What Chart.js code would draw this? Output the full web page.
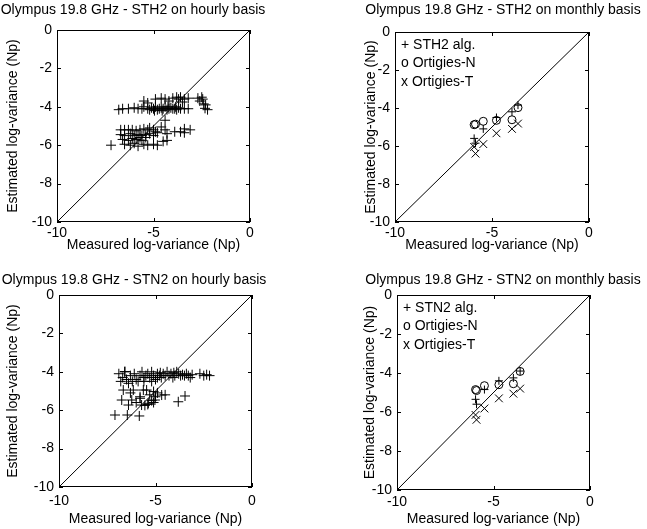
<!DOCTYPE html>
<html>
<head>
<meta charset="utf-8">
<script src="https://cdn.jsdelivr.net/npm/chart.js@4.4.0/dist/chart.umd.min.js"></script>
<style>
    html, body { margin: 0; padding: 0; background: #fff; }
    #wrap { position: relative; width: 647px; height: 529px; overflow: hidden; }
    canvas { position: absolute; }
</style>
</head>
<body>
<div id="wrap">
    <canvas id="c-sth2-hour" width="323" height="264" style="left:0;top:0"></canvas>
    <canvas id="c-sth2-month" width="324" height="264" style="left:323px;top:0"></canvas>
    <canvas id="c-stn2-hour" width="323" height="265" style="left:0;top:264px"></canvas>
    <canvas id="c-stn2-month" width="324" height="265" style="left:323px;top:264px"></canvas>
</div>
<script>
// Axes (log-variance, Np)
var xTicks = [-10, -5, 0];
var yTicks = [0, -2, -4, -6, -8, -10];
var diag = [{ x: -10, y: -10 }, { x: 0, y: 0 }];

// Hourly scatter: [measured, estimated]
var sth2Hourly = [
    [-6.8, -4.15], [-6.6, -4.1], [-6.3, -4.1], [-6.0, -4.05], [-5.8, -4.1], [-5.6, -4.1], [-5.5, -4.0],
    [-5.3, -4.1], [-5.2, -4.15], [-5.1, -4.05], [-5.0, -4.1], [-4.9, -4.0], [-4.8, -4.15], [-4.7, -4.1],
    [-4.6, -4.05], [-4.5, -4.1], [-4.4, -4.0], [-4.3, -4.15], [-4.2, -4.1], [-4.1, -4.05], [-4.0, -4.1],
    [-3.9, -4.1], [-3.8, -4.15], [-3.7, -4.05], [-3.6, -4.1], [-3.4, -4.1], [-3.2, -4.1], [-2.2, -4.15],
    [-2.33, -4.08], [-4.95, -4.2], [-4.55, -4.2], [-4.25, -4.0], [-3.85, -4.0],
    [-5.5, -3.7], [-5.3, -3.8], [-4.9, -3.6], [-4.6, -3.55], [-4.4, -3.6], [-4.2, -3.7], [-4.0, -3.55],
    [-3.8, -3.5], [-3.7, -3.6], [-3.6, -3.5], [-3.5, -3.75], [-3.4, -3.6], [-3.2, -3.55], [-2.7, -3.55],
    [-2.6, -3.7], [-2.5, -3.5], [-2.45, -3.6], [-2.4, -3.85], [-2.3, -3.9],
    [-4.4, -4.7], [-4.6, -5.05],
    [-6.7, -5.2], [-6.5, -5.2], [-6.3, -5.2], [-6.1, -5.2], [-5.9, -5.25], [-5.7, -5.2], [-5.5, -5.15],
    [-5.3, -5.2], [-5.2, -5.1], [-5.0, -5.2], [-4.9, -5.3], [-4.4, -5.2], [-3.4, -5.15], [-3.1, -5.2],
    [-3.9, -5.3], [-6.7, -5.45], [-6.5, -5.5], [-6.2, -5.4], [-6.0, -5.5], [-5.8, -5.45], [-5.6, -5.5],
    [-5.4, -5.45], [-5.2, -5.4], [-5.0, -5.5], [-4.8, -5.35], [-4.3, -5.4], [-3.6, -5.3], [-3.4, -5.35],
    [-6.6, -5.7], [-6.3, -5.75], [-6.1, -5.65], [-5.9, -5.7], [-5.7, -5.6], [-5.6, -5.75], [-5.4, -5.6],
    [-4.5, -5.8], [-4.3, -5.75], [-7.2, -6.0], [-6.5, -5.95], [-6.2, -6.0], [-6.0, -5.9], [-5.8, -6.05],
    [-5.5, -5.95], [-5.0, -5.95], [-4.8, -6.0], [-5.3, -6.0]
];

var stn2Hourly = [
    [-6.9, -4.1], [-6.7, -4.3], [-6.6, -4.0], [-6.5, -4.4], [-6.3, -4.2], [-6.2, -4.5], [-6.1, -4.1],
    [-6.0, -4.4], [-5.9, -4.5], [-5.8, -4.2], [-5.7, -4.0], [-5.6, -4.3], [-5.5, -4.2], [-5.4, -4.1],
    [-5.3, -4.3], [-5.2, -4.0], [-5.1, -4.2], [-5.0, -4.4], [-4.9, -4.1], [-4.8, -4.2], [-4.7, -4.3],
    [-4.6, -4.1], [-4.5, -4.2], [-4.4, -4.0], [-4.3, -4.2], [-4.2, -4.1], [-4.1, -4.3], [-4.0, -4.2],
    [-3.9, -4.0], [-3.8, -4.1], [-3.7, -4.2], [-3.6, -4.15], [-3.5, -4.2], [-3.4, -4.1], [-3.3, -4.2],
    [-3.1, -4.15], [-2.7, -4.1], [-2.5, -4.2], [-2.35, -4.15], [-2.2, -4.2], [-6.8, -4.5], [-6.4, -4.6],
    [-5.6, -4.5], [-5.2, -4.5], [-4.9, -4.3], [-3.2, -4.3], [-6.58, -3.99], [-4.75, -4.05], [-4.05, -4.05],
    [-6.67, -4.95], [-6.15, -4.95], [-5.63, -4.95], [-6.75, -5.47], [-6.23, -5.47], [-5.8, -5.38],
    [-5.46, -4.95], [-5.1, -5.03], [-5.03, -5.47], [-5.37, -5.64], [-5.72, -5.73], [-4.68, -5.21],
    [-3.82, -5.56], [-3.47, -5.26], [-6.4, -5.73], [-5.3, -5.2], [-5.1, -5.6], [-5.0, -5.3], [-4.9, -5.1],
    [-5.2, -5.5], [-4.5, -5.2], [-6.0, -5.6], [-5.8, -5.3], [-6.3, -5.1], [-5.55, -5.75], [-5.4, -5.7],
    [-7.1, -6.25], [-6.46, -6.25], [-5.84, -6.3]
];

// Monthly: measured per month, then each estimator
var sth2Measured = [-5.92, -5.85, -5.45, -4.77, -3.97, -3.66];
var sth2Alg = [-5.6, -5.85, -5.1, -4.5, -4.2, -3.85];
var sth2OrtN = [-4.88, -4.85, -4.7, -4.65, -4.62, -3.98];
var sth2OrtT = [-6.05, -6.4, -5.9, -5.33, -5.1, -4.82];

var stn2Measured = [-5.93, -5.88, -5.47, -4.72, -3.97, -3.62];
var stn2Alg = [-5.35, -5.6, -4.85, -4.4, -4.25, -3.9];
var stn2OrtN = [-4.85, -4.9, -4.65, -4.6, -4.55, -3.92];
var stn2OrtT = [-6.15, -6.4, -5.82, -5.3, -5.06, -4.8];

var sth2Legend = ['+ STH2 alg.', 'o Ortigies-N', 'x Ortigies-T'];
var stn2Legend = ['+ STN2 alg.', 'o Ortigies-N', 'x Ortigies-T'];

var FONT = '"Liberation Sans", Arial, Helvetica, sans-serif';
Chart.defaults.font.family = FONT;
Chart.defaults.font.size = 14;
Chart.defaults.color = '#000';

function pairs(list) {
    return list.map(function (p) { return { x: p[0], y: p[1] }; });
}
function zip(xs, ys) {
    return xs.map(function (x, i) { return { x: x, y: ys[i] }; });
}

// box round the axes, with MATLAB-style inward ticks on all four sides
var boxTicks = {
    id: 'boxTicks',
    afterDatasetsDraw: function (chart) {
        var a = chart.chartArea, ctx = chart.ctx;
        var sx = chart.scales.x, sy = chart.scales.y;
        ctx.save();
        ctx.strokeStyle = '#000';
        ctx.lineWidth = 1;
        ctx.strokeRect(Math.round(a.left) + 0.5, Math.round(a.top) + 0.5,
            Math.round(a.right - a.left) - 1, Math.round(a.bottom - a.top) - 1);
        ctx.beginPath();
        xTicks.forEach(function (v) {
            var px = Math.round(sx.getPixelForValue(v)) + 0.5;
            ctx.moveTo(px, a.top); ctx.lineTo(px, a.top + 4);
            ctx.moveTo(px, a.bottom); ctx.lineTo(px, a.bottom - 4);
        });
        yTicks.forEach(function (v) {
            var py = Math.round(sy.getPixelForValue(v)) + 0.5;
            ctx.moveTo(a.left, py); ctx.lineTo(a.left + 4, py);
            ctx.moveTo(a.right, py); ctx.lineTo(a.right - 4, py);
        });
        ctx.stroke();
        ctx.restore();
    }
};

// text legend inside the axes (as in the figure: "+ ...", "o ...", "x ...")
// and the panel title, which in the figure is not centred on the axes
var panelText = {
    id: 'panelText',
    afterDraw: function (chart, args, opts) {
        var a = chart.chartArea, ctx = chart.ctx;
        ctx.save();
        ctx.fillStyle = '#000';
        ctx.font = '14px ' + FONT;
        ctx.textBaseline = 'middle';
        if (opts.lines) {
            opts.lines.forEach(function (t, i) {
                ctx.fillText(t, a.left + 6, a.top + 13 + i * 18.5);
            });
        }
        if (opts.title) {
            ctx.textAlign = 'center';
            ctx.fillText(opts.title, opts.titleX, opts.titleY);
        }
        ctx.restore();
    }
};

function marker(data, style, radius) {
    return {
        data: data,
        pointStyle: style,
        pointRadius: radius,
        pointHoverRadius: radius,
        borderColor: '#000',
        backgroundColor: 'rgba(0,0,0,0)',
        borderWidth: 1,
        showLine: false
    };
}

function diagLine() {
    return {
        type: 'line',
        data: diag,
        borderColor: '#000',
        borderWidth: 1,
        pointRadius: 0,
        fill: false
    };
}

function makePanel(id, p) {
    new Chart(document.getElementById(id), {
        type: 'scatter',
        data: { datasets: p.datasets },
        plugins: [boxTicks, panelText],
        options: {
            responsive: false,
            animation: false,
            events: [],
            layout: { padding: { left: 0, right: p.padRight, top: p.top, bottom: 0 } },
            plugins: {
                legend: { display: false },
                tooltip: { enabled: false },
                title: { display: false },
                panelText: { lines: p.legend || null, title: p.title, titleX: p.titleX, titleY: p.titleY }
            },
            scales: {
                x: {
                    min: -10, max: 0,
                    afterBuildTicks: function (s) { s.ticks = xTicks.map(function (v) { return { value: v }; }); },
                    afterFit: function (s) { s.height = p.xHeight; },
                    grid: { display: false, drawTicks: false },
                    border: { display: false },
                    ticks: { padding: p.xTickPad, maxRotation: 0, font: { size: 14 } },
                    title: {
                        display: true,
                        text: 'Measured log-variance (Np)',
                        font: { size: 14, lineHeight: 1 },
                        padding: { top: 0, bottom: p.xTitlePad }
                    }
                },
                y: {
                    min: -10, max: 0,
                    afterBuildTicks: function (s) { s.ticks = yTicks.map(function (v) { return { value: v }; }); },
                    afterFit: function (s) { s.width = p.yWidth; },
                    grid: { display: false, drawTicks: false },
                    border: { display: false },
                    ticks: { padding: 5, font: { size: 14 } },
                    title: {
                        display: true,
                        text: 'Estimated log-variance (Np)',
                        font: { size: 14, lineHeight: 1 },
                        padding: { top: p.yTitlePad, bottom: 0 }
                    }
                }
            }
        }
    });
}

makePanel('c-sth2-hour', {
    title: 'Olympus 19.8 GHz - STH2 on hourly basis', titleX: 133, titleY: 10,
    top: 30, padRight: 73, yWidth: 57, xHeight: 42,
    xTickPad: 3, xTitlePad: 12, yTitlePad: 6,
    datasets: [marker(pairs(sth2Hourly), 'cross', 5), diagLine()]
});

makePanel('c-sth2-month', {
    title: 'Olympus 19.8 GHz - STH2 on monthly basis', titleX: 180, titleY: 10,
    top: 32, padRight: 58, yWidth: 72, xHeight: 42,
    xTickPad: 3, xTitlePad: 12, yTitlePad: 41, legend: sth2Legend,
    datasets: [
        marker(zip(sth2Measured, sth2Alg), 'cross', 4),
        marker(zip(sth2Measured, sth2OrtN), 'circle', 4),
        marker(zip(sth2Measured, sth2OrtT), 'crossRot', 5.5),
        diagLine()
    ]
});

makePanel('c-stn2-hour', {
    title: 'Olympus 19.8 GHz - STN2 on hourly basis', titleX: 134, titleY: 16,
    top: 31, padRight: 71, yWidth: 59, xHeight: 42,
    xTickPad: 6, xTitlePad: 3, yTitlePad: 6,
    datasets: [marker(pairs(stn2Hourly), 'cross', 5), diagLine()]
});

makePanel('c-stn2-month', {
    title: 'Olympus 19.8 GHz - STN2 on monthly basis', titleX: 180, titleY: 16,
    top: 31, padRight: 57, yWidth: 74, xHeight: 39,
    xTickPad: 4, xTitlePad: 3, yTitlePad: 40, legend: stn2Legend,
    datasets: [
        marker(zip(stn2Measured, stn2Alg), 'cross', 4),
        marker(zip(stn2Measured, stn2OrtN), 'circle', 4),
        marker(zip(stn2Measured, stn2OrtT), 'crossRot', 5.5),
        diagLine()
    ]
});
</script>
</body>
</html>
